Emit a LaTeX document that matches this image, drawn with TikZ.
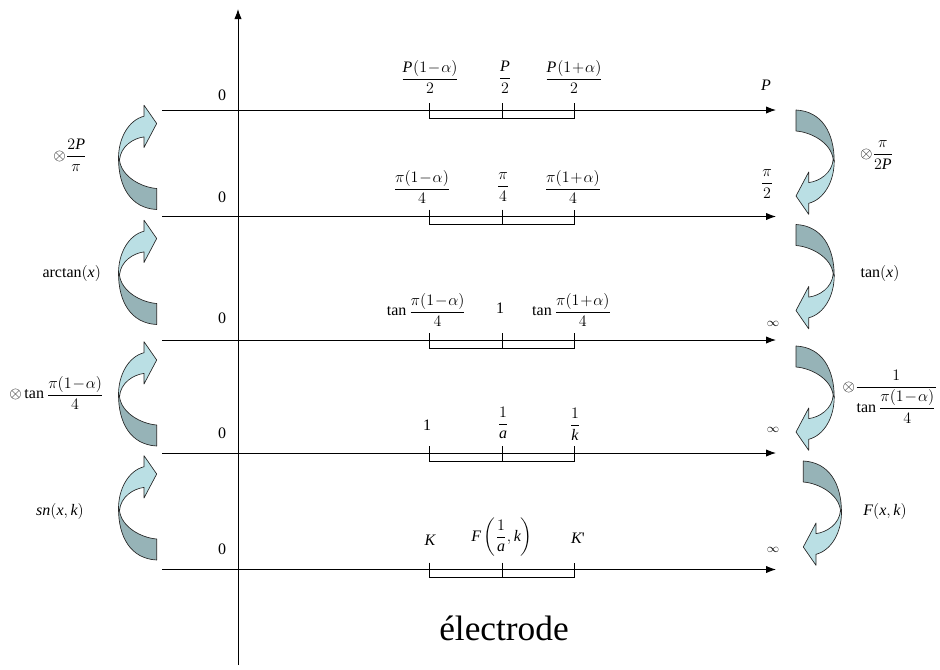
\documentclass[tikz,border=0pt]{standalone}
\usepackage{amsmath}
\usepackage{fontspec}
\setmainfont{Liberation Serif}
\usetikzlibrary{arrows.meta}
\definecolor{bandlight}{RGB}{186,223,228}
\definecolor{banddark}{RGB}{150,179,183}
\newcommand{\mi}[1]{\mathit{#1}}
\newcommand{\mnus}{\mathbin{\mkern-3mu-\mkern-3mu}}
\newcommand{\plss}{\mathbin{\mkern-3mu+\mkern-3mu}}
\tikzset{
  axisline/.style={line width=0.7pt,-{Latex[length=7.5pt,width=5.5pt]}},
  bracketline/.style={line width=0.6pt},
  lbl/.style={inner sep=0pt,font=\fontsize{12}{14}\selectfont},
  inflbl/.style={inner sep=0pt,font=\fontsize{9}{11}\selectfont},
  bandedge/.style={draw=black!85,line width=0.5pt,line join=round},
  curvarrow/.pic={
    \path[bandedge,fill=banddark] (-38.2,34.7) .. controls (-38.2,62.7) and (-26.2,84.7) .. (0,86)
      -- (0,65) .. controls (-16.2,63.7) and (-35.2,52.7) .. (-37.2,36.7) -- cycle;
    \path[bandedge,fill=bandlight] (-38.2,34.7) .. controls (-38.2,14.7) and (-28.2,-3.3) .. (-12.7,-7.3)
      -- (-12.7,-18.3) -- (0,0) -- (-12.7,24) -- (-12.7,13.4)
      .. controls (-23.2,14.7) and (-36.2,22.7) .. (-37.2,36.7) -- cycle;
  }
}
\begin{document}
\begin{tikzpicture}[x=0.75pt,y=-0.75pt]
\useasboundingbox (0,0) rectangle (940,669);
% vertical axis
\coordinate (vb) at (238,665);
\coordinate (vt) at (238,9);
\draw[axisline] (vb) -- (vt);
% horizontal lines
\foreach \i/\y in {1/110,2/216.5,3/340,4/453,5/569.5}{
  \coordinate (s\i) at (162,\y);
  \coordinate (e\i) at (776,\y);
  \draw[axisline] (s\i) -- (e\i);
  \draw[bracketline] (429,\y-7) -- (429,\y+8) -- (574,\y+8) -- (574,\y-7);
  \draw[bracketline] (502.5,\y-7) -- (502.5,\y+8);
}
% zeros
\node[lbl] (z1) at (222,95) {0};
\node[lbl] (z2) at (222,197) {0};
\node[lbl] (z3) at (222,318) {0};
\node[lbl] (z4) at (222,433) {0};
\node[lbl] (z5) at (222,549) {0};
% right end labels
\node[lbl] (r1) at (766,85) {$\mi{P}$};
\node[lbl] (r2) at (767,184) {$\dfrac{\pi}{2}$};
\node[inflbl] (r3) at (773,324) {$\infty$};
\node[inflbl] (r4) at (773,430) {$\infty$};
\node[inflbl] (r5) at (773,550) {$\infty$};
% line 1 labels
\node[lbl] (a11) at (430,77) {$\dfrac{\mi{P}\mkern1mu(1\mnus\alpha)}{2}$};
\node[lbl] (a12) at (505,77) {$\dfrac{\mi{P}}{2}$};
\node[lbl] (a13) at (574,77) {$\dfrac{\mi{P}\mkern1mu(1\plss\alpha)}{2}$};
% line 2 labels
\node[lbl] (a21) at (422,187) {$\dfrac{\pi(1\mnus\alpha)}{4}$};
\node[lbl] (a22) at (503,187) {$\dfrac{\pi}{4}$};
\node[lbl] (a23) at (573,187) {$\dfrac{\pi(1\plss\alpha)}{4}$};
% line 3 labels
\node[lbl] (a31) at (426.5,310) {$\tan\dfrac{\pi(1\mnus\alpha)}{4}$};
\node[lbl] (a32) at (500,308) {1};
\node[lbl] (a33) at (571.7,310) {$\tan\dfrac{\pi(1\plss\alpha)}{4}$};
% line 4 labels
\node[lbl] (a41) at (427,425) {1};
\node[lbl] (a42) at (503,423) {$\dfrac{1}{\mi{a}}$};
\node[lbl] (a43) at (575,424) {$\dfrac{1}{\mi{k}}$};
% line 5 labels
\node[lbl] (a51) at (430,540) {$\mi{K}$};
\node[lbl] (a52) at (502,537) {$\mi{F}\left(\dfrac{1}{\mi{a}},\mi{k}\right)$};
\node[lbl] (a53) at (578,538) {$\mi{K}$\textquotesingle};
% electrode
\node[inner sep=0pt,font=\fontsize{26.5}{31}\selectfont] (el) at (504,628) {électrode};
% left curved arrows
\pic at (156.7,123.5) {curvarrow};
\pic at (156.7,238.5) {curvarrow};
\pic at (156.7,360) {curvarrow};
\pic at (156.7,474) {curvarrow};
% right curved arrows
\pic[rotate=180] at (796,196) {curvarrow};
\pic[rotate=180] at (796,310.5) {curvarrow};
\pic[rotate=180] at (796,432) {curvarrow};
\pic[rotate=180] at (803.3,547) {curvarrow};
% left labels
\node[lbl] (l1) at (70,155) {$\otimes\dfrac{2\mi{P}}{\pi}$};
\node[lbl] (l2) at (71.7,273) {$\arctan(\mi{x})$};
\node[lbl] (l3) at (56.5,393) {$\otimes\tan\dfrac{\pi(1\mnus\alpha)}{4}$};
\node[lbl] (l4) at (60,511.7) {$\mi{sn}(\mi{x},\mi{k})$};
% right labels
\node[lbl] (q1) at (876.7,155) {$\otimes\dfrac{\pi}{2\mi{P}}$};
\node[lbl] (q2) at (880,273.3) {$\tan(\mi{x})$};
\node[lbl] (q3) at (890,396.7) {$\otimes\dfrac{1}{\tan\dfrac{\pi(1\mnus\alpha)}{4}}$};
\node[lbl] (q4) at (885,511.7) {$\mi{F}(\mi{x},\mi{k})$};
\end{tikzpicture}
\end{document}
